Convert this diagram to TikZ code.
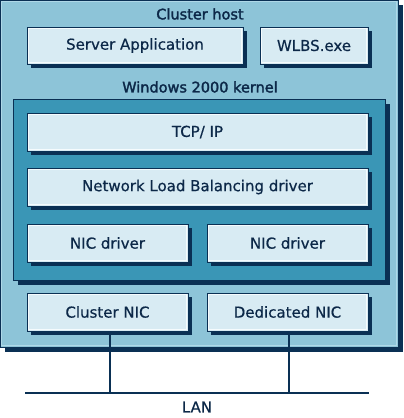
\documentclass[tikz,border=0pt]{standalone}
\usepackage{fontspec}
\setmainfont{DejaVu Sans}
\newfontfamily\titlefont[FakeBold=2]{DejaVu Sans}
\newfontfamily\boxfont[FakeBold=0.6]{DejaVu Sans}
\usetikzlibrary{shadows}
\definecolor{navy}{RGB}{10,48,84}
\definecolor{hostfill}{RGB}{141,196,216}
\definecolor{hostedge}{RGB}{175,216,232}
\definecolor{kernfill}{RGB}{58,150,182}
\definecolor{boxfill}{RGB}{216,235,243}
\definecolor{boxedge}{RGB}{245,251,253}
\definecolor{txt}{RGB}{12,40,72}
\tikzset{
  frame/.style={draw=navy, line width=1pt, inner sep=0pt, outer sep=0pt},
  hostbox/.style={frame, fill=hostfill, drop shadow={shadow xshift=5pt, shadow yshift=-5pt, fill=navy, opacity=1},
    path picture={\draw[hostedge, line width=1.2pt] ([shift={(1.5pt,1.5pt)}]path picture bounding box.south west) rectangle ([shift={(-1.5pt,-1.5pt)}]path picture bounding box.north east);}},
  kernbox/.style={frame, fill=kernfill, drop shadow={shadow xshift=5pt, shadow yshift=-5pt, fill=navy, opacity=1}},
  compbox/.style={frame, fill=boxfill, text=txt, font=\boxfont\fontsize{15}{18}\selectfont,
    drop shadow={shadow xshift=4pt, shadow yshift=-4pt, fill=navy, opacity=1},
    path picture={\draw[boxedge, line width=1.2pt] ([shift={(1.4pt,1.4pt)}]path picture bounding box.south west) rectangle ([shift={(-1.4pt,-1.4pt)}]path picture bounding box.north east);}},
  titletext/.style={text=txt, font=\titlefont\fontsize{14.5}{17}\selectfont, inner sep=0pt},
  wire/.style={draw=navy, line width=1.3pt}
}
\begin{document}
\begin{tikzpicture}[x=1pt,y=-1pt]
\useasboundingbox (0,0) rectangle (404,418);
\node[hostbox, minimum width=398pt, minimum height=347pt] (host) at (199,173.5) {};
\node[titletext] (hosttitle) at (200,14) {Cluster host};
\node[compbox, minimum width=216pt, minimum height=37pt] (srv) at (135,45.5) {Server Application};
\node[compbox, minimum width=108pt, minimum height=37pt] (wlbs) at (314,45.5) {WLBS.exe};
\node[titletext] (kerntitle) at (200,87) {Windows 2000 kernel};
\node[kernbox, minimum width=372pt, minimum height=181pt] (kern) at (199,189.5) {};
\node[compbox, minimum width=341pt, minimum height=38pt] (tcp) at (197.5,132) {TCP/ IP};
\node[compbox, minimum width=341pt, minimum height=38pt] (nlb) at (197.5,187) {Network Load Balancing driver};
\node[compbox, minimum width=161pt, minimum height=38pt] (nicd1) at (107.5,243) {NIC driver};
\node[compbox, minimum width=161pt, minimum height=38pt] (nicd2) at (287.5,243) {NIC driver};
\node[compbox, minimum width=161pt, minimum height=38pt] (cnic) at (107.5,312) {Cluster NIC};
\node[compbox, minimum width=161pt, minimum height=38pt] (dnic) at (287.5,312) {Dedicated NIC};
\coordinate (lanL) at (25,393);
\coordinate (lanR) at (369,393);
\coordinate (lan1) at (110,393);
\coordinate (lan2) at (289,393);
\draw[wire] (lanL) -- (lanR);
\draw[wire] (cnic.south -| lan1) -- (lan1);
\draw[wire] (dnic.south -| lan2) -- (lan2);
\node[text=txt, font=\boxfont\fontsize{15}{18}\selectfont, inner sep=0pt] (lan) at (197,407) {LAN};
\end{tikzpicture}
\end{document}
